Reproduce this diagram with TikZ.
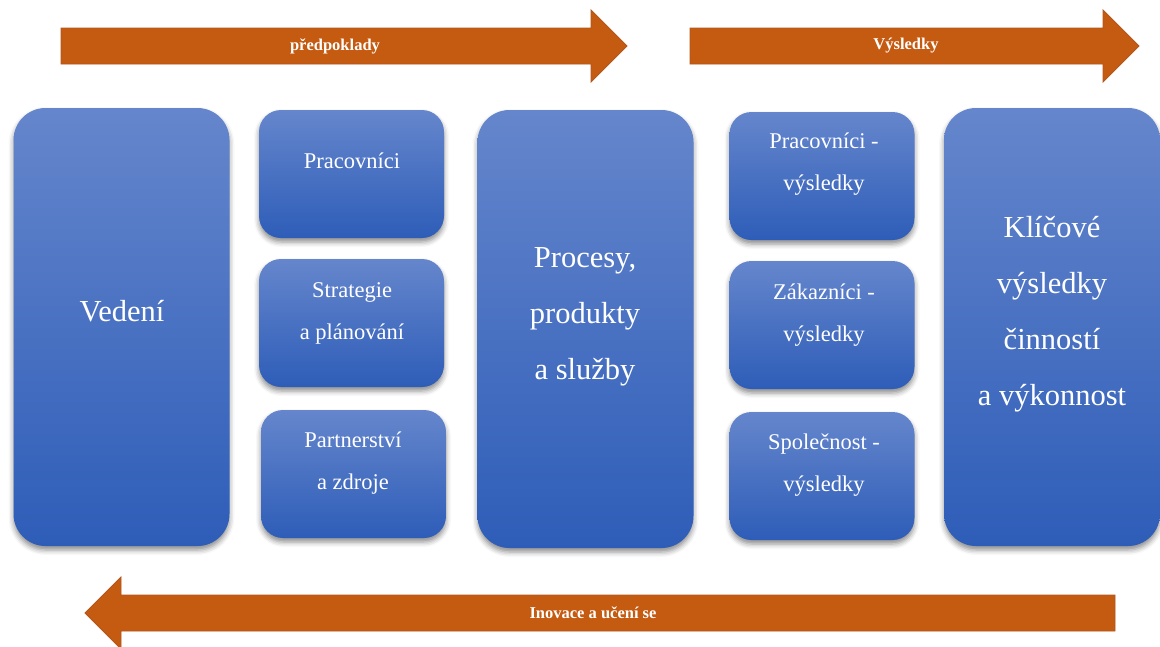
\documentclass[tikz,border=0pt]{standalone}
\usepackage{fontspec}
\setmainfont{Liberation Serif}
\usetikzlibrary{shadows.blur}
\definecolor{arrowc}{HTML}{C55A11}
\definecolor{arrowedge}{HTML}{B0581E}
\definecolor{boxtop}{HTML}{6586CC}
\definecolor{boxmid}{HTML}{4471C7}
\definecolor{boxbot}{HTML}{2E5DB8}
\begin{document}
\begin{tikzpicture}[x=1pt,y=-1pt,
  box/.style={inner sep=0pt, outer sep=0pt, draw=none,
    top color=boxtop, middle color=boxmid, bottom color=boxbot,
    blur shadow={shadow xshift=0pt, shadow yshift=-4pt, shadow blur radius=5pt, shadow opacity=45}},
  bigbox/.style={box, rounded corners=32pt, minimum width=216pt, minimum height=438pt},
  smallbox/.style={box, rounded corners=22pt, minimum width=185pt, minimum height=128pt},
  bigtxt/.style={text=white, align=center, font=\fontsize{30.5}{56}\selectfont},
  smalltxt/.style={text=white, align=center, font=\fontsize{22.5}{42}\selectfont},
  arrowtxt/.style={text=white, font=\fontsize{16.5}{19}\selectfont\bfseries},
  bigarrow/.style={fill=arrowc, draw=arrowedge, line width=0.8pt}]
\useasboundingbox (0,0) rectangle (1160,646);

% arrows
\draw[bigarrow] (61,28) -- (591,28) -- (591,10) -- (627,46) -- (591,82) -- (591,64) -- (61,64) -- cycle;
\node[arrowtxt] (tpred) at (335,46) {předpoklady};
\draw[bigarrow] (690,28) -- (1103,28) -- (1103,10) -- (1139,46) -- (1103,82) -- (1103,64) -- (690,64) -- cycle;
\node[arrowtxt] (tvys) at (906,46) {Výsledky};
\draw[bigarrow] (1115,595) -- (121,595) -- (121,577) -- (85,613) -- (121,649) -- (121,631) -- (1115,631) -- cycle;
\node[arrowtxt] (tinov) at (593,613) {Inovace a učení se};

% boxes
\node[bigbox] (ved) at (121.5,327) {};
\node[smallbox] (prac) at (351.5,174) {};
\node[smallbox] (strat) at (351.5,323) {};
\node[smallbox] (part) at (353.5,474) {};
\node[bigbox] (proc) at (585.5,329) {};
\node[smallbox] (pracv) at (822,176) {};
\node[smallbox] (zak) at (822,325) {};
\node[smallbox] (spol) at (822,476) {};
\node[bigbox] (klic) at (1052,327) {};

% texts
\node[bigtxt] (tved) at (122,311) {Vedení};
\node[smalltxt] (tprac) at (352,161) {Pracovníci};
\node[smalltxt] (tstrat) at (352,313) {Strategie\\a plánování};
\node[smalltxt] (tpart) at (353,463) {Partnerství\\a zdroje};
\node[bigtxt] (tproc) at (585,317) {Procesy,\\produkty\\a služby};
\node[smalltxt] (tpracv) at (824,164) {Pracovníci -\\výsledky};
\node[smalltxt] (tzak) at (824,315) {Zákazníci -\\výsledky};
\node[smalltxt] (tspol) at (824,465) {Společnost -\\výsledky};
\node[bigtxt] (tklic) at (1052,314) {Klíčové\\výsledky\\činností\\a výkonnost};
\end{tikzpicture}
\end{document}
